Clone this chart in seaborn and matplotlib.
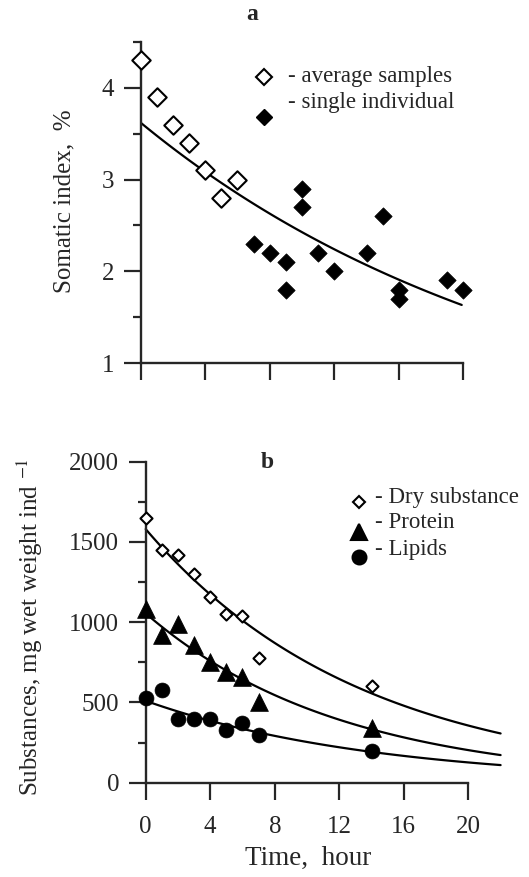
import numpy as np
import pandas as pd
import matplotlib
matplotlib.use('Agg')
import matplotlib.pyplot as plt
import seaborn as sns
from matplotlib.ticker import MultipleLocator

# panel a: somatic index
avg_hours = [0, 1, 2, 3, 4, 5, 6]
avg_index = [4.3, 3.9, 3.6, 3.4, 3.1, 2.8, 3.0]
single_hours = [7, 8, 9, 9, 10, 10, 11, 12, 14, 15, 16, 16, 19, 20]
single_index = [2.3, 2.2, 2.1, 1.8, 2.9, 2.7, 2.2, 2.0, 2.2, 2.6, 1.8, 1.7, 1.9, 1.8]
fit_a = (3.62, 0.040, 19.9)  # amplitude, rate, end hour

# panel b: substances
b_hours = [0, 1, 2, 3, 4, 5, 6, 7, 14]
dry = [1650, 1450, 1420, 1300, 1160, 1050, 1040, 780, 600]
protein = [1080, 920, 990, 860, 750, 690, 660, 500, 340]
lipids = [530, 580, 400, 400, 400, 330, 370, 300, 200]
fit_dry = (1580, 0.0745)
fit_protein = (1055, 0.0824)
fit_lipids = (510, 0.0698)
fit_b_end = 22

x_ticks = [0, 4, 8, 12, 16, 20]


def fit_curve(amp, rate, end):
    t = np.linspace(0, end, 120)
    return pd.DataFrame({'t': t, 'y': amp * np.exp(-rate * t)})


def style_axis(ax):
    sns.despine(ax=ax)
    for side in ['left', 'bottom']:
        ax.spines[side].set_linewidth(1.7)
    ax.spines['bottom'].set_bounds(0, 20)
    ax.set_xlim(0, 22)
    ax.set_xticks(x_ticks)
    ax.tick_params(which='major', direction='out', length=12, width=1.6,
                   labelsize=18, pad=7)
    ax.tick_params(which='minor', direction='out', length=6, width=1.6)
    ax.tick_params(axis='x', which='major', pad=12)
    ax.xaxis.set_minor_locator(plt.NullLocator())
    ax.set_xlabel('')
    ax.set_ylabel('')


sns.set_style('ticks')
plt.rcParams['font.family'] = ['Liberation Serif', 'DejaVu Serif']
plt.rcParams['mathtext.fontset'] = 'stix'

fig = plt.figure(figsize=(5.29, 8.77), dpi=100)
W, H = 529, 877
ax_a = fig.add_axes([140.7 / W, (H - 363) / H, 354.9 / W, 321 / H])
ax_b = fig.add_axes([145.7 / W, (H - 782.7) / H, 354.9 / W, 321 / H])

# ---- panel a
df_avg = pd.DataFrame({'t': avg_hours, 'y': avg_index})
df_single = pd.DataFrame({'t': single_hours, 'y': single_index})
sns.lineplot(data=fit_curve(*fit_a), x='t', y='y', ax=ax_a, color='black', lw=1.6)
sns.scatterplot(data=df_avg, x='t', y='y', ax=ax_a, marker='D', s=88,
                facecolor='white', edgecolor='black', linewidth=1.5, clip_on=False, zorder=3)
sns.scatterplot(data=df_single, x='t', y='y', ax=ax_a, marker='D', s=78,
                color='black', edgecolor='black', linewidth=0.5, clip_on=False, zorder=3)
style_axis(ax_a)
ax_a.set_ylim(1, 4.5)
ax_a.set_yticks([1, 2, 3, 4])
ax_a.yaxis.set_minor_locator(MultipleLocator(0.5))
ax_a.set_xticklabels([])

ax_a.plot([0.347], [0.891], transform=ax_a.transAxes, marker='D', ms=8.5,
          mfc='white', mec='black', mew=1.5, ls='none')
ax_a.plot([0.347], [0.766], transform=ax_a.transAxes, marker='D', ms=8,
          color='black', ls='none')
ax_a.text(0.415, 0.891, '- average samples', transform=ax_a.transAxes,
          fontsize=16.5, va='center', ha='left')
ax_a.text(0.415, 0.810, '- single individual', transform=ax_a.transAxes,
          fontsize=16.5, va='center', ha='left')

# ---- panel b
df_b = pd.DataFrame({'t': b_hours, 'dry': dry, 'protein': protein, 'lipids': lipids})
for params in [fit_dry, fit_protein, fit_lipids]:
    sns.lineplot(data=fit_curve(*params, fit_b_end), x='t', y='y', ax=ax_b,
                 color='black', lw=1.6)
for line in ax_b.lines:
    line.set_clip_on(False)
sns.scatterplot(data=df_b, x='t', y='lipids', ax=ax_b, marker='o', s=115,
                color='black', edgecolor='black', linewidth=0.5, clip_on=False, zorder=3)
sns.scatterplot(data=df_b, x='t', y='protein', ax=ax_b, marker='^', s=165,
                color='black', edgecolor='black', linewidth=0.5, clip_on=False, zorder=3)
sns.scatterplot(data=df_b, x='t', y='dry', ax=ax_b, marker='D', s=38,
                facecolor='white', edgecolor='black', linewidth=1.5, clip_on=False, zorder=4)
style_axis(ax_b)
ax_b.set_ylim(0, 2000)
ax_b.set_yticks([0, 500, 1000, 1500, 2000])
ax_b.yaxis.set_minor_locator(MultipleLocator(250))

legend_b = [('D', 6.0, 'white', 0.874, 0.890, '- Dry substance'),
            ('^', 12, 'black', 0.781, 0.810, '- Protein'),
            ('o', 10, 'black', 0.703, 0.725, '- Lipids')]
for mk, ms, fc, my, ty, label in legend_b:
    ax_b.plot([0.601], [my], transform=ax_b.transAxes, marker=mk, ms=ms,
              mfc=fc, mec='black', mew=1.5, ls='none', clip_on=False)
    ax_b.text(0.646, ty, label, transform=ax_b.transAxes, fontsize=16.5,
              va='center', ha='left')

# ---- figure texts
fig.text(252 / W, 1 - 15 / H, 'a', fontsize=17, fontweight='bold', ha='center', va='center')
fig.text(267 / W, 1 - 462 / H, 'b', fontsize=17, fontweight='bold', ha='center', va='center')
fig.text(64 / W, 1 - 201 / H, 'Somatic index,  %', fontsize=18, rotation=90,
         ha='center', va='center')
fig.text(30 / W, 1 - 627 / H, 'Substances, mg wet weight ind $^{-1}$', fontsize=18,
         rotation=90, ha='center', va='center')
fig.text(308 / W, 1 - 858 / H, 'Time,  hour', fontsize=19.5, ha='center', va='center')

fig.savefig('out.png', dpi=100)
